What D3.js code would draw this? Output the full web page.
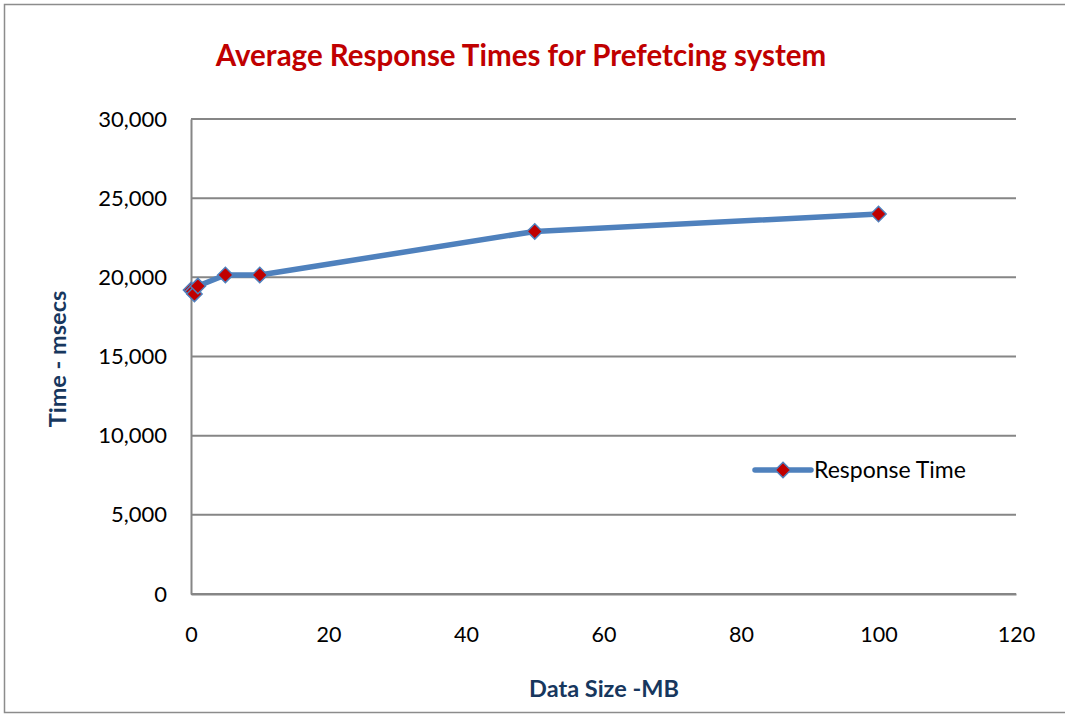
<!DOCTYPE html>
<html>
<head>
<meta charset="utf-8">
<script src="https://cdn.jsdelivr.net/npm/d3@7"></script>
<style>
  body { margin: 0; background: #fff; }
  text { font-family: Lato, "Open Sans", sans-serif; }
</style>
</head>
<body>
<svg id="chart" width="1065" height="715"></svg>
<script>
// data
var dataSize = [0.01, 0.25, 0.5, 1, 5, 10, 50, 100];
var responseTime = [19200, 19100, 18950, 19450, 20150, 20150, 22900, 24000];
var xTicks = [0, 20, 40, 60, 80, 100, 120];
var yTicks = [0, 5000, 10000, 15000, 20000, 25000, 30000];
var seriesName = "Response Time";

var svg = d3.select("#chart");
var plotL = 191, plotR = 1016, plotT = 119, plotB = 594;

var x = d3.scaleLinear().domain([0, 120]).range([plotL, plotR]);
var y = d3.scaleLinear().domain([0, 30000]).range([plotB, plotT]);

// outer frame
svg.append("rect")
  .attr("x", 4.5).attr("y", 4.5)
  .attr("width", 1070).attr("height", 708)
  .attr("fill", "none").attr("stroke", "#8c8c8c").attr("stroke-width", 1.5);

// title
svg.append("text")
  .attr("x", 521).attr("y", 66)
  .attr("text-anchor", "middle")
  .attr("fill", "#C00000")
  .style("font-size", "29.5px").style("font-weight", "bold")
  .text("Average Response Times for Prefetcing system");

// gridlines
svg.append("g").selectAll("line")
  .data(yTicks)
  .enter().append("line")
    .attr("x1", plotL).attr("x2", plotR)
    .attr("y1", function(d){ return y(d); })
    .attr("y2", function(d){ return y(d); })
    .attr("stroke", "#868686").attr("stroke-width", 2);

// y axis
var yAxis = svg.append("g")
  .attr("transform", "translate(" + plotL + ",0)")
  .call(d3.axisLeft(y).tickValues(yTicks).tickSize(0).tickPadding(24)
    .tickFormat(d3.format(",")));
yAxis.select(".domain").attr("stroke", "#868686").attr("stroke-width", 2);
yAxis.selectAll("text")
  .style("font-size", "22px").attr("fill", "#000")
  .style("font-family", "Lato, sans-serif");

// x axis
var xAxis = svg.append("g")
  .attr("transform", "translate(0," + plotB + ")")
  .call(d3.axisBottom(x).tickValues(xTicks).tickSize(0).tickPadding(33));
xAxis.select(".domain").attr("stroke", "#868686").attr("stroke-width", 2);
xAxis.selectAll("text")
  .style("font-size", "21.5px").attr("fill", "#000")
  .style("font-family", "Lato, sans-serif");

// axis titles
svg.append("text")
  .attr("x", 604).attr("y", 697)
  .attr("text-anchor", "middle")
  .attr("fill", "#17375E")
  .style("font-size", "23.5px").style("font-weight", "bold")
  .text("Data Size -MB");

svg.append("text")
  .attr("transform", "translate(66,359) rotate(-90)")
  .attr("text-anchor", "middle")
  .attr("fill", "#17375E")
  .style("font-size", "23.5px").style("font-weight", "bold")
  .text("Time - msecs");

// series
var points = dataSize.map(function(d, i){ return [d, responseTime[i]]; });

svg.append("path")
  .datum(points)
  .attr("fill", "none")
  .attr("stroke", "#4F81BD")
  .attr("stroke-width", 5.5)
  .attr("stroke-linejoin", "round")
  .attr("d", d3.line()
    .x(function(d){ return x(d[0]); })
    .y(function(d){ return y(d[1]); }));

var diamond = d3.symbol().type(d3.symbolDiamond2).size(150);

svg.append("g").selectAll("path")
  .data(points)
  .enter().append("path")
    .attr("d", diamond)
    .attr("transform", function(d){ return "translate(" + x(d[0]) + "," + y(d[1]) + ")"; })
    .attr("fill", "#C00000")
    .attr("stroke", "#4F81BD")
    .attr("stroke-width", 1.5);

// legend
var lg = svg.append("g").attr("transform", "translate(755,470)");
lg.append("line")
  .attr("x1", 0).attr("x2", 56)
  .attr("stroke", "#4F81BD").attr("stroke-width", 5.5).attr("stroke-linecap", "round");
lg.append("path")
  .attr("d", diamond)
  .attr("transform", "translate(28,0)")
  .attr("fill", "#C00000").attr("stroke", "#4F81BD").attr("stroke-width", 1.5);
lg.append("text")
  .attr("x", 59).attr("y", 8)
  .style("font-size", "23px").attr("fill", "#000")
  .text(seriesName);
</script>
</body>
</html>
